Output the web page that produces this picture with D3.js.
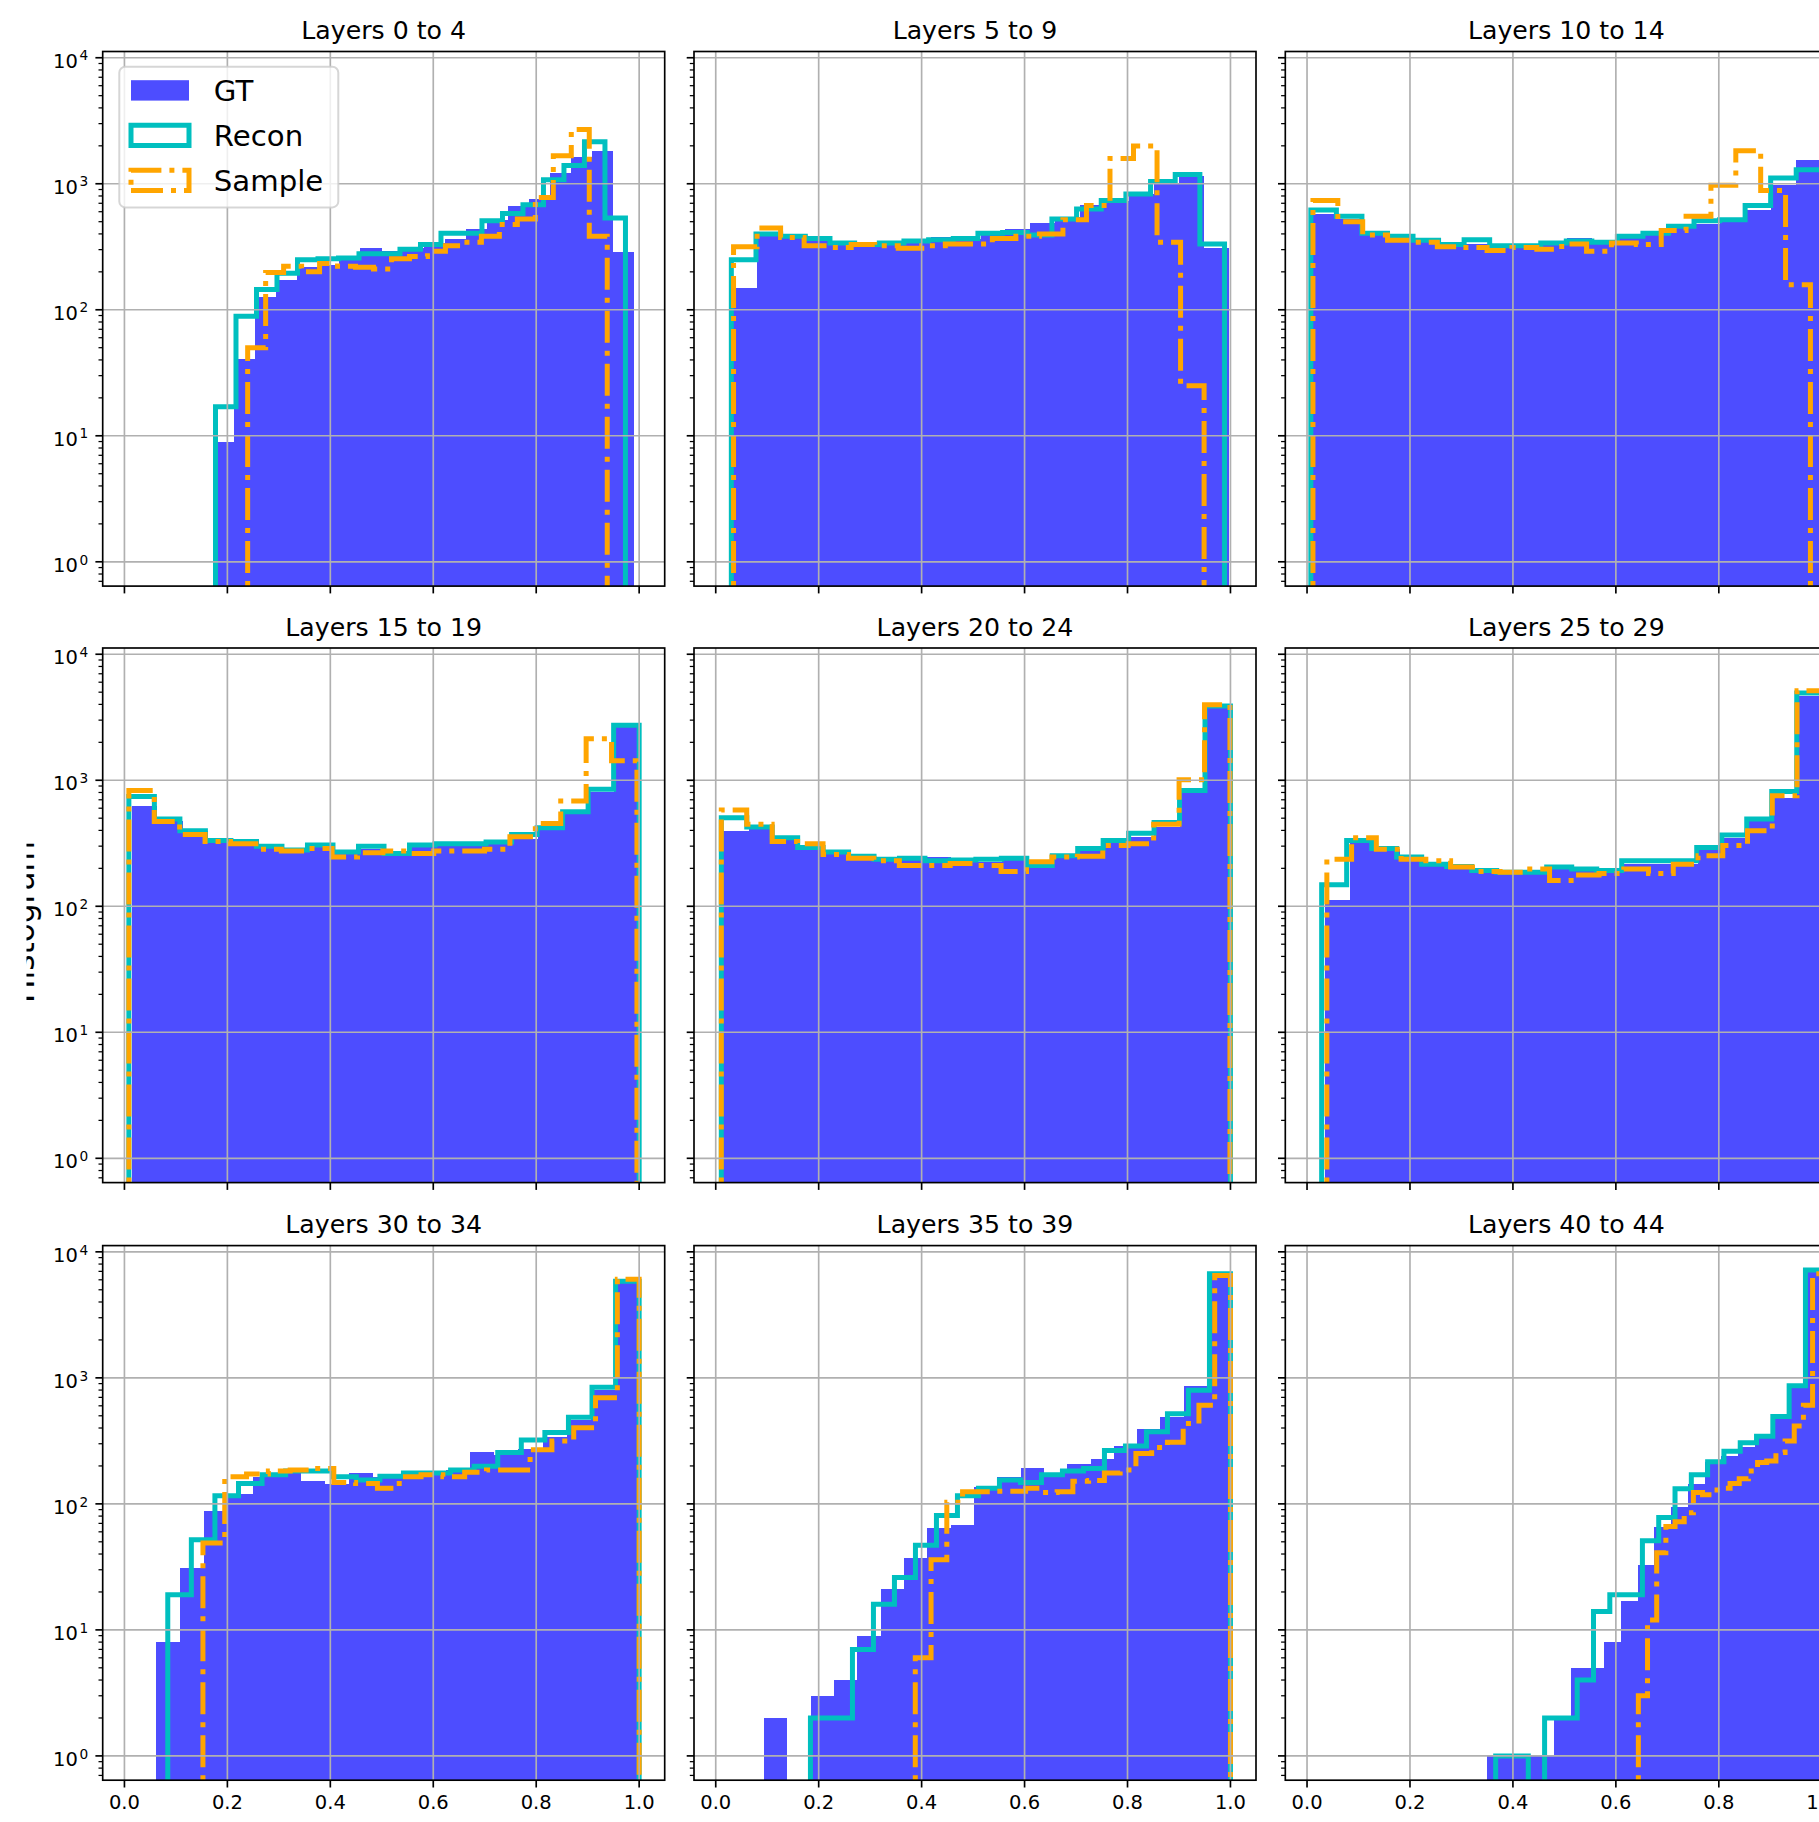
<!DOCTYPE html>
<html>
<head>
<meta charset="utf-8">
<script src="https://cdn.jsdelivr.net/npm/d3@7"></script>
<style>
  html, body { margin: 0; padding: 0; background: #fff; }
  svg { display: block; }
</style>
</head>
<body>
<script>
// ---- data: per-layer-group histograms of a value in [0, 1], 20 bins each ----
const panelTitles = [
  "Layers 0 to 4", "Layers 5 to 9", "Layers 10 to 14",
  "Layers 15 to 19", "Layers 20 to 24", "Layers 25 to 29",
  "Layers 30 to 34", "Layers 35 to 39", "Layers 40 to 44"
];

// [min, max] of each series (bins span this range)
const gtRanges = [
  [0.1725, 0.990], [0.0325, 0.9964], [0.0101, 1.0],
  [0.0144, 1.0], [0.0144, 1.0], [0.0352, 1.0],
  [0.0612, 1.0], [0.0939, 1.0], [0.3496, 1.0]
];
const reconRanges = [
  [0.1769, 0.9734], [0.0303, 0.9885], [0.0074, 1.0],
  [0.0086, 1.0], [0.0108, 1.0], [0.0284, 1.0],
  [0.0842, 1.0], [0.184, 1.0], [0.3665, 1.0]
];
const sampleRanges = [
  [0.2394, 0.938], [0.0346, 0.9488], [0.0115, 0.978],
  [0.0086, 0.9957], [0.0108, 0.999], [0.0385, 1.0],
  [0.1525, 1.0], [0.3877, 1.0], [0.6437, 1.0]
];

const gtCounts = [
  [9, 41, 127, 172, 218, 225, 262, 312, 292, 308, 338, 367, 438, 515, 668, 751, 1224, 1618, 1806, 287],
  [148, 392, 379, 356, 333, 322, 333, 356, 379, 367, 405, 438, 486, 543, 681, 727, 828, 1007, 1161, 312],
  [579, 525, 392, 374, 351, 316, 333, 312, 322, 338, 374, 344, 392, 392, 455, 476, 532, 618, 975, 1556],
  [628, 478, 393, 333, 340, 299, 287, 303, 269, 287, 269, 293, 299, 303, 323, 340, 405, 551, 804, 2864],
  [398, 419, 344, 303, 274, 252, 236, 236, 246, 236, 226, 240, 207, 240, 284, 333, 356, 425, 804, 3715],
  [112, 319, 284, 241, 216, 198, 192, 182, 180, 198, 203, 198, 218, 218, 218, 303, 349, 478, 729, 4670],
  [8, 31, 87, 120, 162, 176, 151, 145, 176, 164, 166, 170, 186, 256, 244, 275, 338, 460, 797, 5650],
  [2, 0, 3, 4, 9, 21, 37, 64, 68, 135, 162, 191, 176, 209, 228, 288, 395, 493, 865, 6490],
  [1, 1, 1, 1, 2, 5, 5, 8, 17, 33, 65, 95, 143, 216, 239, 284, 349, 476, 824, 6950]
];
const reconCounts = [
  [17, 89, 145, 195, 249, 254, 258, 278, 278, 302, 329, 405, 405, 508, 580, 681, 1074, 1393, 2155, 535],
  [249, 400, 384, 367, 338, 329, 338, 351, 360, 367, 405, 410, 392, 525, 630, 736, 828, 1040, 1184, 333],
  [618, 553, 405, 384, 356, 329, 360, 322, 322, 338, 351, 344, 384, 405, 461, 508, 518, 672, 1109, 1289],
  [743, 493, 398, 333, 326, 299, 280, 307, 269, 299, 262, 307, 313, 313, 323, 372, 419, 562, 847, 2736],
  [503, 425, 349, 293, 269, 249, 236, 240, 230, 233, 236, 240, 211, 252, 287, 333, 380, 462, 830, 3890],
  [148, 333, 287, 246, 216, 207, 192, 186, 186, 205, 198, 192, 230, 230, 230, 293, 368, 493, 815, 4920],
  [19, 52, 116, 145, 170, 182, 182, 164, 155, 166, 176, 176, 186, 199, 256, 322, 369, 486, 842, 5850],
  [2, 2, 7, 16, 26, 47, 81, 116, 133, 155, 148, 170, 182, 191, 265, 288, 374, 520, 797, 6710],
  [1, 1, 0, 2, 2, 4, 14, 19, 19, 51, 78, 132, 170, 216, 262, 305, 344, 493, 865, 7190]
];
const sampleCounts = [
  [50, 198, 222, 200, 233, 222, 217, 211, 254, 265, 292, 322, 344, 384, 476, 525, 778, 1672, 2700, 384],
  [316, 446, 374, 322, 312, 329, 322, 308, 322, 333, 333, 367, 384, 400, 518, 672, 1588, 1992, 344, 25],
  [736, 499, 392, 356, 344, 316, 312, 296, 312, 302, 333, 292, 338, 329, 426, 553, 975, 1832, 884, 158],
  [830, 471, 372, 326, 313, 284, 274, 287, 246, 266, 274, 262, 274, 274, 284, 356, 453, 684, 2137, 1427],
  [581, 448, 326, 313, 257, 240, 230, 211, 211, 218, 211, 189, 226, 246, 249, 303, 313, 448, 1009, 3966],
  [236, 349, 284, 236, 230, 205, 189, 186, 198, 160, 177, 182, 198, 182, 216, 252, 303, 398, 754, 5140],
  [49, 164, 173, 182, 186, 191, 148, 145, 133, 164, 170, 164, 178, 186, 186, 269, 315, 401, 695, 6050],
  [6, 36, 103, 125, 125, 126, 126, 133, 123, 125, 151, 153, 176, 186, 251, 280, 309, 435, 605, 6490],
  [3, 12, 41, 66, 72, 85, 123, 118, 129, 133, 145, 158, 182, 213, 219, 256, 315, 415, 605, 6710]
];

const xTickValues = [0.0, 0.2, 0.4, 0.6, 0.8, 1.0];
const yTickExponents = [0, 1, 2, 3, 4];
const legendLabels = ["GT", "Recon", "Sample"];
const yAxisLabel = "Histogram";

// ---- styling / layout ----
const FONT = "'DejaVu Sans', 'Liberation Sans', sans-serif";
const GT_FILL = "#4d4dff";        // blue at 70% opacity over white
const RECON_COLOR = "#00bfbf";
const SAMPLE_COLOR = "#ffa500";
const LINE_W = 5;
const DASHDOT = "32 8 5 8";
const GRID_COLOR = "#b0b0b0";

const W = 562, H = 534.6;
const colLeft = [102.7, 694.0, 1285.3];
const rowTop = [51.5, 648.0, 1245.6];

// shared scales (sharex / sharey)
const allRanges = [...gtRanges, ...reconRanges, ...sampleRanges];
const xmin = d3.min(allRanges, r => r[0]);
const xmax = d3.max(allRanges, r => r[1]);
const xpad = 0.05 * (xmax - xmin);
const x = d3.scaleLinear().domain([xmin - xpad, xmax + xpad]).range([0, W]);

const maxCount = d3.max([...gtCounts, ...reconCounts, ...sampleCounts].flat());
const L = Math.log10(maxCount);
const y = d3.scaleLog().domain([Math.pow(10, -0.05 * L), Math.pow(10, 1.05 * L)]).range([H, 0]);

const [yLo, yHi] = y.domain();
const yMajor = yTickExponents.map(e => Math.pow(10, e)).filter(v => v >= yLo && v <= yHi);
const yMinor = [];
for (let e = -1; e <= 4; e++) for (let m = 2; m <= 9; m++) {
  const v = m * Math.pow(10, e);
  if (v >= yLo && v <= yHi) yMinor.push(v);
}

function makeBins(range, counts) {
  const n = counts.length, step = (range[1] - range[0]) / n;
  return counts.map((c, i) => ({ x0: range[0] + i * step, x1: range[0] + (i + 1) * step, n: c }));
}

function stepPath(bins) {
  const below = H + 40;
  const yy = n => n > 0 ? y(n) : below;
  let p = `M${x(bins[0].x0)},${below}`;
  bins.forEach(b => { p += `V${yy(b.n)}H${x(b.x1)}`; });
  p += `V${below}`;
  return p;
}

const svg = d3.select("body").append("svg")
  .attr("width", 1819).attr("height", 1822)
  .attr("font-family", FONT);
const defs = svg.append("defs");

panelTitles.forEach((title, i) => {
  const r = Math.floor(i / 3), c = i % 3;
  const g = svg.append("g").attr("transform", `translate(${colLeft[c]},${rowTop[r]})`);
  const clipId = "plot-clip-" + i;
  defs.append("clipPath").attr("id", clipId)
    .append("rect").attr("width", W).attr("height", H);
  const plot = g.append("g").attr("clip-path", `url(#${clipId})`);

  // GT: filled bars
  const gtBins = makeBins(gtRanges[i], gtCounts[i]);
  plot.append("g").selectAll("rect")
    .data(gtBins.filter(b => b.n > 0))
    .join("rect")
    .attr("x", b => x(b.x0))
    .attr("width", b => x(b.x1) - x(b.x0))
    .attr("y", b => y(b.n))
    .attr("height", b => H + 10 - y(b.n))
    .attr("fill", GT_FILL)
    .attr("shape-rendering", "crispEdges");

  // Recon: solid step outline
  plot.append("path")
    .attr("d", stepPath(makeBins(reconRanges[i], reconCounts[i])))
    .attr("fill", "none")
    .attr("stroke", RECON_COLOR)
    .attr("stroke-width", LINE_W)
    .attr("stroke-linejoin", "miter");

  // Sample: dash-dot step outline
  plot.append("path")
    .attr("d", stepPath(makeBins(sampleRanges[i], sampleCounts[i])))
    .attr("fill", "none")
    .attr("stroke", SAMPLE_COLOR)
    .attr("stroke-width", LINE_W)
    .attr("stroke-dasharray", DASHDOT)
    .attr("stroke-linejoin", "miter");

  // grid
  const grid = plot.append("g").attr("stroke", GRID_COLOR).attr("stroke-width", 1.67);
  grid.selectAll("line.gx").data(xTickValues).join("line").attr("class", "gx")
    .attr("x1", d => x(d)).attr("x2", d => x(d)).attr("y1", 0).attr("y2", H);
  grid.selectAll("line.gy").data(yMajor).join("line").attr("class", "gy")
    .attr("y1", d => y(d)).attr("y2", d => y(d)).attr("x1", 0).attr("x2", W);

  // frame
  g.append("rect").attr("width", W).attr("height", H)
    .attr("fill", "none").attr("stroke", "#000").attr("stroke-width", 1.67);

  // x axis
  const xAxis = d3.axisBottom(x).tickValues(xTickValues)
    .tickSize(7.3).tickPadding(7.7).offset(0)
    .tickFormat(r === 2 ? d3.format(".1f") : () => "");
  const gx = g.append("g").attr("transform", `translate(0,${H})`).call(xAxis);
  gx.select(".domain").remove();
  gx.attr("font-size", 19.5).attr("font-family", FONT);
  gx.selectAll("line").attr("stroke", "#000").attr("stroke-width", 1.67);
  gx.selectAll("text").attr("fill", "#000");

  // y axis: major + minor ticks
  const gyMaj = g.append("g").call(
    d3.axisLeft(y).tickValues(yMajor).tickSize(7.3).tickFormat(() => "").offset(0));
  gyMaj.select(".domain").remove();
  gyMaj.selectAll("line").attr("stroke", "#000").attr("stroke-width", 1.67);
  const gyMin = g.append("g").call(
    d3.axisLeft(y).tickValues(yMinor).tickSize(4.2).tickFormat(() => "").offset(0));
  gyMin.select(".domain").remove();
  gyMin.selectAll("line").attr("stroke", "#000").attr("stroke-width", 1.25);

  if (c === 0) {
    const lab = g.append("g").attr("font-family", FONT).attr("fill", "#000");
    yMajor.forEach(v => {
      const t = lab.append("text")
        .attr("x", -14.6).attr("y", y(v) + 10)
        .attr("text-anchor", "end").attr("font-size", 19.5);
      t.append("tspan").text("10");
      t.append("tspan").attr("font-size", 13.7).attr("dx", 1.5).attr("dy", -7.3)
        .text(String(Math.round(Math.log10(v))));
    });
  }

  // title
  g.append("text").attr("x", W / 2).attr("y", -12.3)
    .attr("text-anchor", "middle").attr("font-size", 25.2).attr("fill", "#000")
    .text(title);

  // legend in the first panel
  if (i === 0) {
    const lg = g.append("g").attr("transform", "translate(16.6,15.3)");
    lg.append("rect").attr("width", 219).attr("height", 140.6).attr("rx", 6).attr("ry", 6)
      .attr("fill", "#fff").attr("fill-opacity", 0.8)
      .attr("stroke", "#cccccc").attr("stroke-opacity", 0.8).attr("stroke-width", 2);
    const rowsY = [23.6, 68.6, 113.6];
    const hx = 11.7, hw = 58, hh = 20.4;
    legendLabels.forEach((lbl, k) => {
      const cy = rowsY[k];
      if (k === 0) {
        lg.append("rect").attr("x", hx).attr("y", cy - hh / 2)
          .attr("width", hw).attr("height", hh).attr("fill", GT_FILL);
      } else {
        const h = lg.append("path")
          .attr("d", `M${hx},${cy + hh / 2}H${hx + hw}V${cy - hh / 2}H${hx}Z`)
          .attr("fill", "none").attr("stroke", k === 1 ? RECON_COLOR : SAMPLE_COLOR)
          .attr("stroke-width", LINE_W);
        if (k === 2) h.attr("stroke-dasharray", DASHDOT);
      }
      lg.append("text").attr("x", 94.5).attr("y", cy + 10.5)
        .attr("font-size", 29.2).attr("fill", "#000").text(lbl);
    });
  }
});

// shared y label, partly cut by the left margin
defs.append("clipPath").attr("id", "ylabel-clip")
  .append("rect").attr("x", 26.5).attr("y", 0).attr("width", 60).attr("height", 1822);
svg.append("g").attr("clip-path", "url(#ylabel-clip)")
  .append("text")
  .attr("transform", "translate(33.5,922) rotate(-90)")
  .attr("text-anchor", "middle").attr("font-size", 31.2).attr("fill", "#000")
  .text(yAxisLabel);
</script>
</body>
</html>
